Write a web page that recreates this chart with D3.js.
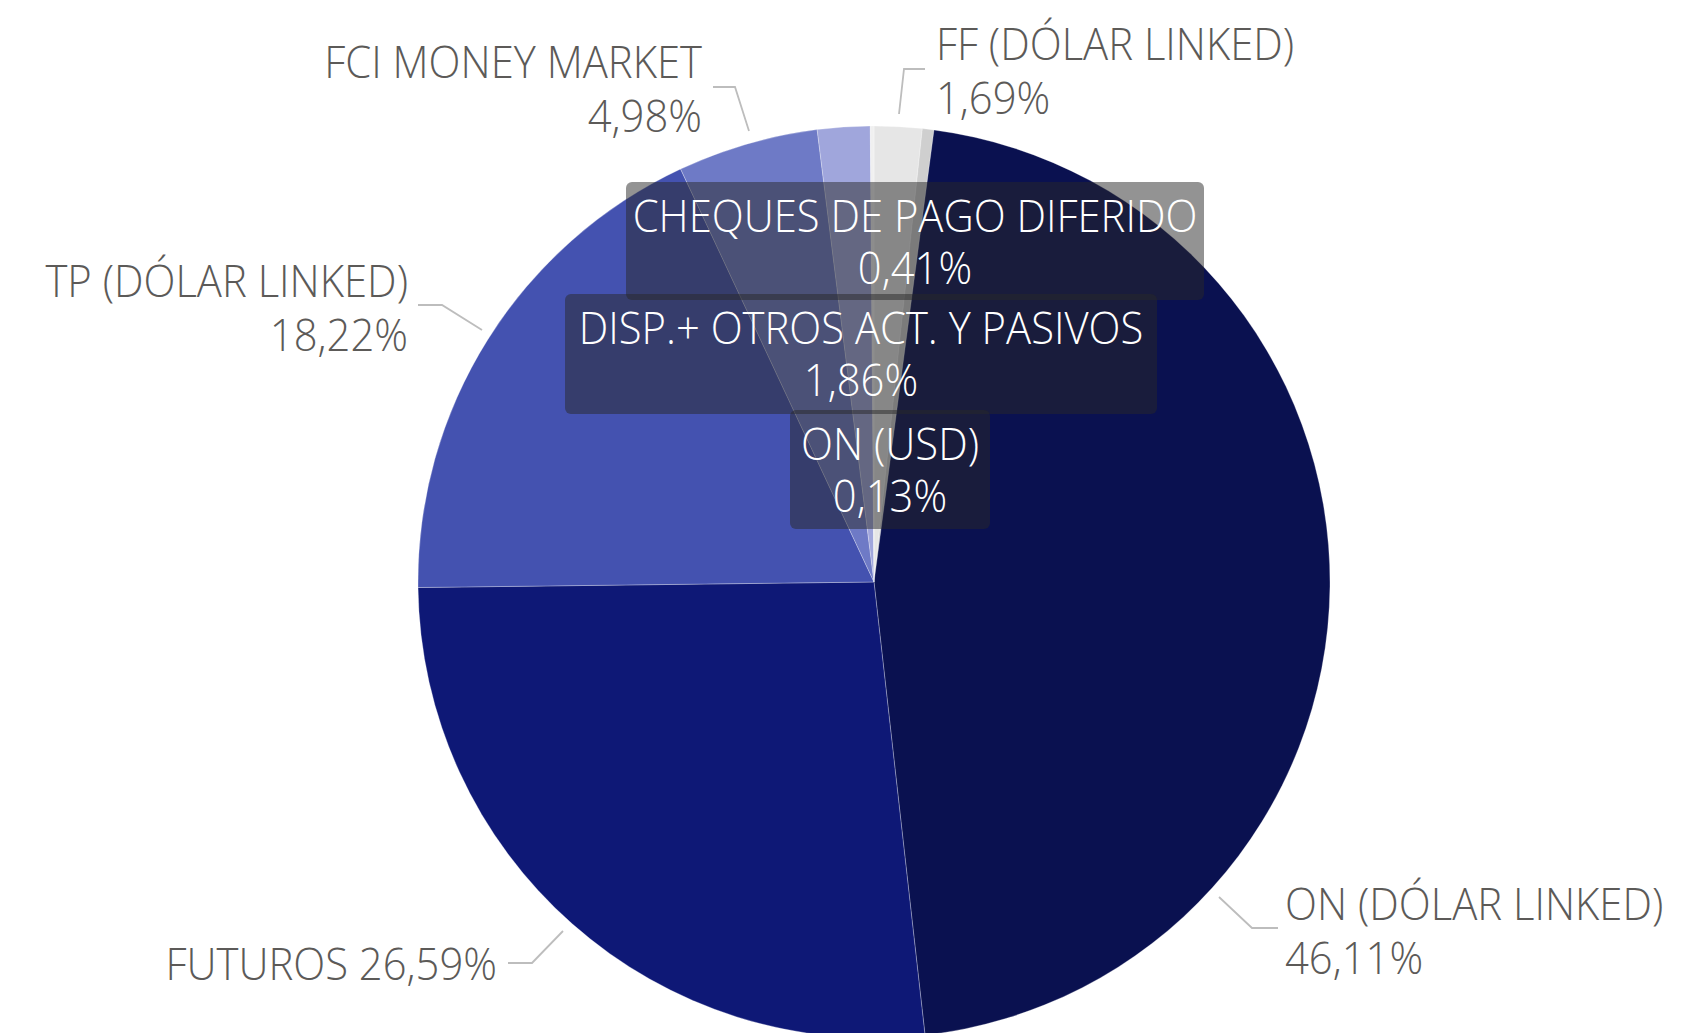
<!DOCTYPE html>
<html>
<head>
<meta charset="utf-8">
<script src="https://cdn.jsdelivr.net/npm/d3@7"></script>
<style>
  body { margin: 0; background: #fff; }
  text { font-family: "Segoe UI", "Open Sans", sans-serif; font-weight: 300; }
</style>
</head>
<body>
<svg id="chart" width="1707" height="1033"></svg>
<script>
// data, clockwise from 12 o'clock
var categories = ["FF (DÓLAR LINKED)", "CHEQUES DE PAGO DIFERIDO", "ON (DÓLAR LINKED)", "FUTUROS",
                  "TP (DÓLAR LINKED)", "FCI MONEY MARKET", "DISP.+ OTROS ACT. Y PASIVOS", "ON (USD)"];
var values = [1.69, 0.41, 46.11, 26.59, 18.22, 4.98, 1.86, 0.13];
var colors = ["#e6e6e6", "#cfcfcf", "#0a1150", "#0e1876", "#4452b0", "#6e7ac6", "#a0a6dc", "#f0f0f0"];

var CX = 874, CY = 582, R = 456;
var FONT = 44, SX = 0.95, LINE = 52;
var TEXT_COLOR = "#5c5a58", LEADER = "#bdbdbd";

// label layout (outside labels with leader lines, inside labels in dark boxes)
var outside = {
    "FF (DÓLAR LINKED)":  {x: 936, y: 60,  anchor: "start", lines: 2, leader: [[925,69],[904,69],[899,114]]},
    "ON (DÓLAR LINKED)":  {x: 1285, y: 920, anchor: "start", lines: 2, leader: [[1219,897],[1252,928],[1278,928]]},
    "FUTUROS":            {x: 497, y: 980, anchor: "end", lines: 1, leader: [[508,963],[532,963],[563,931]]},
    "TP (DÓLAR LINKED)":  {x: 408, y: 297, anchor: "end", lines: 2, leader: [[418,305],[442,305],[482,330]]},
    "FCI MONEY MARKET":   {x: 702, y: 78,  anchor: "end", lines: 2, leader: [[713,87],[735,87],[749,131]]}
};
var inside = {
    "CHEQUES DE PAGO DIFERIDO":    {x: 915, y: 232, box: [626, 182, 578, 118]},
    "DISP.+ OTROS ACT. Y PASIVOS": {x: 861, y: 344, box: [565, 294, 592, 120]},
    "ON (USD)":                    {x: 890, y: 460, box: [790, 410, 200, 119]}
};

var data = categories.map(function(c, i) { return {name: c, value: values[i], color: colors[i]}; });
var fmt = function(v) { return d3.format(".2f")(v).replace(".", ",") + "%"; };

var svg = d3.select("#chart");
var pie = d3.pie().sort(null).value(function(d) { return d.value; });
var arc = d3.arc().innerRadius(0).outerRadius(R);

svg.append("g")
    .attr("transform", "translate(" + CX + "," + CY + ")")
  .selectAll("path")
  .data(pie(data))
  .join("path")
    .attr("d", arc)
    .style("fill", function(d) { return d.data.color; })
    .style("stroke", "rgba(255,255,255,0.35)")
    .style("stroke-width", 0.8);

// outside labels
var gOut = svg.append("g");
data.forEach(function(d) {
    var L = outside[d.name];
    if (!L) return;
    gOut.append("polyline")
        .attr("points", L.leader.map(function(p) { return p.join(","); }).join(" "))
        .style("fill", "none")
        .style("stroke", LEADER)
        .style("stroke-width", 1.8);
    var t = gOut.append("text")
        .attr("transform", "translate(" + L.x + "," + L.y + ") scale(" + SX + ",1)")
        .attr("text-anchor", L.anchor)
        .style("font-size", FONT + "px")
        .style("fill", TEXT_COLOR);
    if (L.lines == 1) {
        t.text(d.name + " " + fmt(d.value));
    } else {
        t.append("tspan").attr("x", 0).attr("y", 0).text(d.name);
        t.append("tspan").attr("x", 0).attr("y", LINE + 2).text(fmt(d.value));
    }
});

// inside labels
var gIn = svg.append("g");
data.forEach(function(d) {
    var L = inside[d.name];
    if (!L) return;
    gIn.append("rect")
        .attr("x", L.box[0]).attr("y", L.box[1])
        .attr("width", L.box[2]).attr("height", L.box[3])
        .attr("rx", 6)
        .style("fill", "rgb(40,40,40)")
        .style("fill-opacity", 0.5);
    var t = gIn.append("text")
        .attr("transform", "translate(" + L.x + "," + L.y + ") scale(" + SX + ",1)")
        .attr("text-anchor", "middle")
        .style("font-size", FONT + "px")
        .style("fill", "#ffffff");
    t.append("tspan").attr("x", 0).attr("y", 0).text(d.name);
    t.append("tspan").attr("x", 0).attr("y", LINE).text(fmt(d.value));
});
</script>
</body>
</html>
